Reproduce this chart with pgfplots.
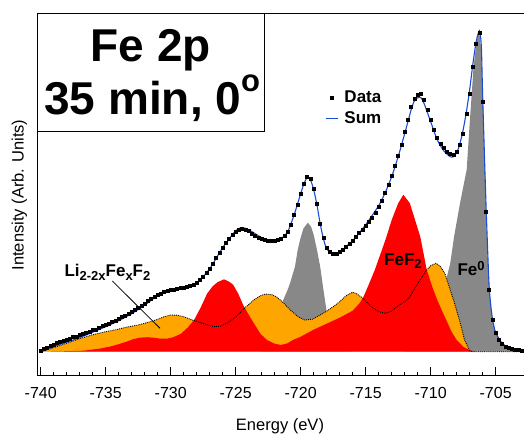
\documentclass[border=0pt]{standalone}
\usepackage{pgfplots}
\pgfplotsset{compat=1.18}
\usepackage{fontspec}
\setmainfont{Liberation Sans}
\definecolor{grayfill}{RGB}{136,136,136}
\definecolor{orangefill}{RGB}{255,165,0}
\definecolor{redfill}{RGB}{255,0,0}
\definecolor{sumblue}{RGB}{25,75,215}

\begin{document}
\begin{tikzpicture}
\begin{axis}[
  at={(37.7pt,58.3pt)}, anchor=south west,
  scale only axis, width=486.3pt, height=362.4pt,
  xmin=-740.23, xmax=-702.82, ymin=-24, ymax=338.4,
  axis lines*=left,
  axis line style={line width=1.1pt},
  clip=false,
  xtick={-740,-735,-730,-725,-720,-715,-710,-705},
  xticklabels={-740,-735,-730,-725,-720,-715,-710,-705},
  minor x tick num=4,
  ytick=\empty,
  tick align=inside,
  major tick length=8.5pt, minor tick length=3.5pt,
  every tick/.style={black, line width=0.9pt},
  xticklabel style={font=\fontsize{16}{16}\selectfont, anchor=base, yshift=-22.6pt},
  legend image code/.code={\draw[mark repeat=2,mark phase=2,#1] plot coordinates {(0pt,0pt) (6pt,0pt) (12pt,0pt)};},
  legend style={at={(axis cs:-718.1,261.9)}, anchor=north west, draw=none, fill=none,
    font=\fontsize{17}{17}\selectfont\bfseries, inner sep=0pt, outer sep=0pt,
    row sep=5pt, column sep=6pt,
    nodes={inner sep=0pt, text height=12.5pt, text depth=3.5pt}},
  legend cell align=left,
]
% Fe0 satellite / 2p1/2 peak
\addplot[fill=grayfill, draw=none, forget plot] coordinates {
(-723,0) (-722.5,10) (-722,22) (-721.5,45) (-721.34,51.7) (-721,62) (-720.82,68.4)
(-720.44,85) (-720.23,101.7) (-720.05,111.7) (-719.8,123) (-719.45,129) (-719.2,125)
(-719,117) (-718.75,102) (-718.5,85) (-718.25,62) (-718,40) (-717.75,27) (-717.5,17)
(-717,6) (-716.5,1) (-716,0)} \closedcycle;
% Fe0 2p3/2 peak
\addplot[fill=grayfill, draw=none, forget plot] coordinates {
(-712,0) (-711,8) (-710,25) (-709.5,42) (-709,62) (-708.5,88) (-708.2,115) (-707.75,148)
(-707.23,182) (-706.98,232) (-706.7,285) (-706.45,312) (-706.26,320) (-706.1,300)
(-705.95,240) (-705.8,165) (-705.65,105) (-705.5,65) (-705.35,42) (-705.2,30) (-705,20)
(-704.67,12) (-704.3,7) (-704,5) (-703.4,2) (-702.82,1)} \closedcycle;
% Li2-2xFexF2 envelope
\addplot[fill=orangefill, draw=none, forget plot] coordinates {
(-740,0) (-739,4) (-738,8.5) (-737,13) (-736,17) (-735,20) (-734.2,22) (-733.4,24.5)
(-732.4,27) (-731.3,31) (-730.5,35) (-730,36.7) (-729.5,36.5) (-729,35) (-728.4,32)
(-727.7,29) (-726.7,25) (-726.2,25.5) (-725.7,28.4) (-725.2,32.5) (-724.7,38.4) (-724.2,45)
(-723.6,51.7) (-723.1,56) (-722.7,57.7) (-722.2,57) (-721.8,54.4) (-721.3,48.5) (-720.8,41.7)
(-720.2,35) (-719.7,31.7) (-719.1,32.5) (-718.5,36.7) (-718,40.5) (-717.5,45) (-717,50)
(-716.5,56) (-716,59.5) (-715.7,58) (-715.2,53.4) (-714.8,48) (-714.4,43.4) (-714,40)
(-713.5,38.4) (-713,40.5) (-712.5,46) (-711.9,51) (-711.6,55) (-711.3,62) (-710.8,72)
(-710.3,81.7) (-710,86) (-709.6,88.4) (-709.3,86) (-708.9,78) (-708.5,62) (-708.2,50)
(-707.75,30) (-707.4,12) (-707,1) (-706.8,0) (-702.82,0)} \closedcycle;
% FeF2 envelope
\addplot[fill=redfill, draw=none, forget plot] coordinates {
(-740,0) (-738,0.5) (-736.7,1) (-735.5,3) (-734.7,5) (-734,7.5) (-733.4,10) (-732.9,12.5)
(-732.4,14) (-731.8,14.5) (-731.3,14) (-730.8,13) (-730.3,13) (-729.8,14.5) (-729.2,18)
(-728.7,24) (-728.2,31.7) (-727.7,44) (-727.2,58) (-726.8,65) (-726.4,69.5) (-725.9,72.4)
(-725.5,70) (-725.2,67) (-724.8,58) (-724.4,46) (-724,37) (-723.6,28.4) (-723.1,18)
(-722.6,11.7) (-722,8) (-721.5,6.7) (-721,8.5) (-720.6,11.7) (-720,15) (-719,22) (-718,28)
(-717,34) (-716,41) (-715.5,48) (-715.2,54) (-714.8,66) (-714.3,81.7) (-713.8,100)
(-713.4,115) (-713,131.7) (-712.5,148.4) (-712.1,157) (-711.6,148.4) (-711.2,131.7)
(-710.8,115) (-710.3,81.7) (-709.8,62) (-709.5,52) (-709.1,40) (-708.8,31.7) (-708.4,20)
(-708,11.7) (-707.5,5) (-707,1.5) (-706.5,0) (-702.82,0)} \closedcycle;
% dotted outline of Li2-2xFexF2 envelope
\addplot[black, densely dotted, line width=0.9pt, forget plot] coordinates {
(-740,0) (-739,4) (-738,8.5) (-737,13) (-736,17) (-735,20) (-734.2,22) (-733.4,24.5)
(-732.4,27) (-731.3,31) (-730.5,35) (-730,36.7) (-729.5,36.5) (-729,35) (-728.4,32)
(-727.7,29) (-726.7,25) (-726.2,25.5) (-725.7,28.4) (-725.2,32.5) (-724.7,38.4) (-724.2,45)
(-723.6,51.7) (-723.1,56) (-722.7,57.7) (-722.2,57) (-721.8,54.4) (-721.3,48.5) (-720.8,41.7)
(-720.2,35) (-719.7,31.7) (-719.1,32.5) (-718.5,36.7) (-718,40.5) (-717.5,45) (-717,50)
(-716.5,56) (-716,59.5) (-715.7,58) (-715.2,53.4) (-714.8,48) (-714.4,43.4) (-714,40)
(-713.5,38.4) (-713,40.5) (-712.5,46) (-711.9,51) (-711.6,55) (-711.3,62) (-710.8,72)
(-710.3,81.7) (-710,86) (-709.6,88.4) (-709.3,86) (-708.9,78) (-708.5,62) (-708.2,50)
(-707.75,30) (-707.4,12) (-707,1) (-706.8,0) (-702.82,0)};
% Data
\addplot[only marks, mark=square*, mark size=1.5pt, mark options={draw=black, fill=black}] coordinates {
(-740.00,1) (-739.75,3) (-739.50,4) (-739.25,6) (-739.00,7) (-738.75,9) (-738.50,10)
(-738.25,11) (-738.00,12) (-737.75,13) (-737.50,15) (-737.25,15) (-737.00,17) (-736.75,18)
(-736.50,19) (-736.25,20) (-736.00,22) (-735.75,22) (-735.50,24) (-735.25,26) (-735.00,27)
(-734.75,28) (-734.50,30) (-734.25,31) (-734.00,33) (-733.75,35) (-733.50,36) (-733.25,38)
(-733.00,40) (-732.75,42) (-732.50,44) (-732.25,46) (-732.00,48) (-731.75,51) (-731.50,53)
(-731.25,55) (-731.00,57) (-730.75,58) (-730.50,60) (-730.25,61) (-730.00,62) (-729.75,62)
(-729.50,63) (-729.25,64) (-729.00,64) (-728.75,65) (-728.50,66) (-728.25,67) (-728.00,69)
(-727.75,72) (-727.50,75) (-727.25,79) (-727.00,83) (-726.75,88) (-726.50,94) (-726.25,99)
(-726.00,104) (-725.75,109) (-725.50,113) (-725.25,117) (-725.00,120) (-724.75,122)
(-724.50,123) (-724.25,122) (-724.00,121) (-723.75,118) (-723.50,116) (-723.25,114)
(-723.00,113) (-722.75,112) (-722.50,111) (-722.25,111) (-722.00,111) (-721.75,112)
(-721.50,113) (-721.25,116) (-721.00,120) (-720.75,127) (-720.50,137) (-720.25,147)
(-720.00,158) (-719.75,168) (-719.50,175) (-719.25,173) (-719.00,163) (-718.75,148)
(-718.50,128) (-718.25,114) (-718.00,104) (-717.75,100) (-717.50,98) (-717.25,98)
(-717.00,100) (-716.75,102) (-716.50,105) (-716.25,108) (-716.00,111) (-715.75,115)
(-715.50,119) (-715.25,122) (-715.00,126) (-714.75,130) (-714.50,134) (-714.25,139)
(-714.00,145) (-713.75,151) (-713.50,159) (-713.25,167) (-713.00,176) (-712.75,186)
(-712.50,196) (-712.25,207) (-712.00,220) (-711.75,232) (-711.50,245) (-711.25,253)
(-711.00,257) (-710.75,258) (-710.50,252) (-710.25,242) (-710.00,232) (-709.75,222)
(-709.50,214) (-709.25,208) (-709.00,204) (-708.75,200) (-708.50,198) (-708.25,197)
(-708.00,200) (-707.75,207) (-707.50,218) (-707.25,238) (-707.00,258) (-706.75,285)
(-706.50,308) (-706.25,319) (-706.00,250) (-705.75,140) (-705.50,62) (-705.25,32)
(-705.00,19) (-704.75,12) (-704.50,8) (-704.25,5) (-704.00,4) (-703.75,3) (-703.50,2)
(-703.25,2) (-703.00,1)};
\addlegendentry{Data}
% Sum
\addplot[sumblue, line width=1.1pt, smooth, tension=0.4] coordinates {
(-740,0) (-739,5) (-738,9.5) (-737,14) (-736,19.5) (-735,25) (-734,31) (-733,38) (-732,46.5)
(-731,56) (-730,61.5) (-729,64) (-728,68.5) (-727,83) (-726,104) (-725,121) (-724.5,124)
(-724,122) (-723,114) (-722.5,111.5) (-722,111) (-721.5,113) (-721,120) (-720.5,137)
(-720,158) (-719.75,168) (-719.5,174) (-719.25,172) (-719,162) (-718.75,147) (-718.5,128)
(-718.25,113) (-718,103) (-717.5,97.5) (-717,100) (-716,111) (-715,127) (-714,146)
(-713.5,159) (-713,175) (-712.5,195) (-712,218) (-711.5,242) (-711.25,251) (-711,254)
(-710.75,254) (-710.5,248) (-710,230) (-709.5,212) (-709,201) (-708.5,195) (-708.25,195)
(-708,199) (-707.75,208) (-707.5,222) (-707.25,240) (-707,262) (-706.75,288) (-706.5,310)
(-706.25,321) (-706.1,305) (-706,255) (-705.75,150) (-705.5,65) (-705.25,33) (-705,19)
(-704.5,8) (-704,4) (-703.5,2) (-703,1)};
\addlegendentry{Sum}
% top frame line
\draw[line width=1.1pt] (rel axis cs:0,1) -- (rel axis cs:1,1);
% title box
\draw[line width=1pt] (rel axis cs:0,0.6733) rectangle (rel axis cs:0.4654,1);
\node[anchor=base, inner sep=0pt, font=\fontsize{46}{46}\selectfont\bfseries] at (rel axis cs:0.2325,0.8665) {Fe 2p};
\node[anchor=base, inner sep=0pt, font=\fontsize{46}{46}\selectfont\bfseries] at (rel axis cs:0.2355,0.7194) {35 min, 0\raisebox{23pt}{\fontsize{31}{31}\selectfont o}};
% component labels
\draw[line width=0.8pt] (axis cs:-734.49,70.7) -- (axis cs:-730.82,23.4);
\node[anchor=base west, inner sep=0pt, font=\fontsize{17}{17}\selectfont\bfseries] at (axis cs:-738.18,75) {Li\raisebox{-3.3pt}{\fontsize{13}{13}\selectfont 2-2x}Fe\raisebox{-3.3pt}{\fontsize{13}{13}\selectfont x}F\raisebox{-3.3pt}{\fontsize{13}{13}\selectfont 2}};
\node[anchor=base west, inner sep=0pt, font=\fontsize{17}{17}\selectfont\bfseries] at (axis cs:-713.59,86) {FeF\raisebox{-3pt}{\fontsize{13}{13}\selectfont 2}};
\node[anchor=base west, inner sep=0pt, font=\fontsize{17}{17}\selectfont\bfseries] at (axis cs:-707.95,76.7) {Fe\raisebox{5pt}{\fontsize{13}{13}\selectfont 0}};
\end{axis}
% axis titles placed in picture coordinates (origin = lower left of the page)
\node[anchor=base, inner sep=0pt, font=\fontsize{16.5}{16}\selectfont] at (280pt,3.5pt) {Energy (eV)};
\node[anchor=base, rotate=90, inner sep=0pt, font=\fontsize{16.5}{16}\selectfont] at (23.5pt,239pt) {Intensity (Arb. Units)};
\pgfresetboundingbox
\path[use as bounding box] (0,0) rectangle (524pt,434pt);
\end{tikzpicture}
\end{document}
